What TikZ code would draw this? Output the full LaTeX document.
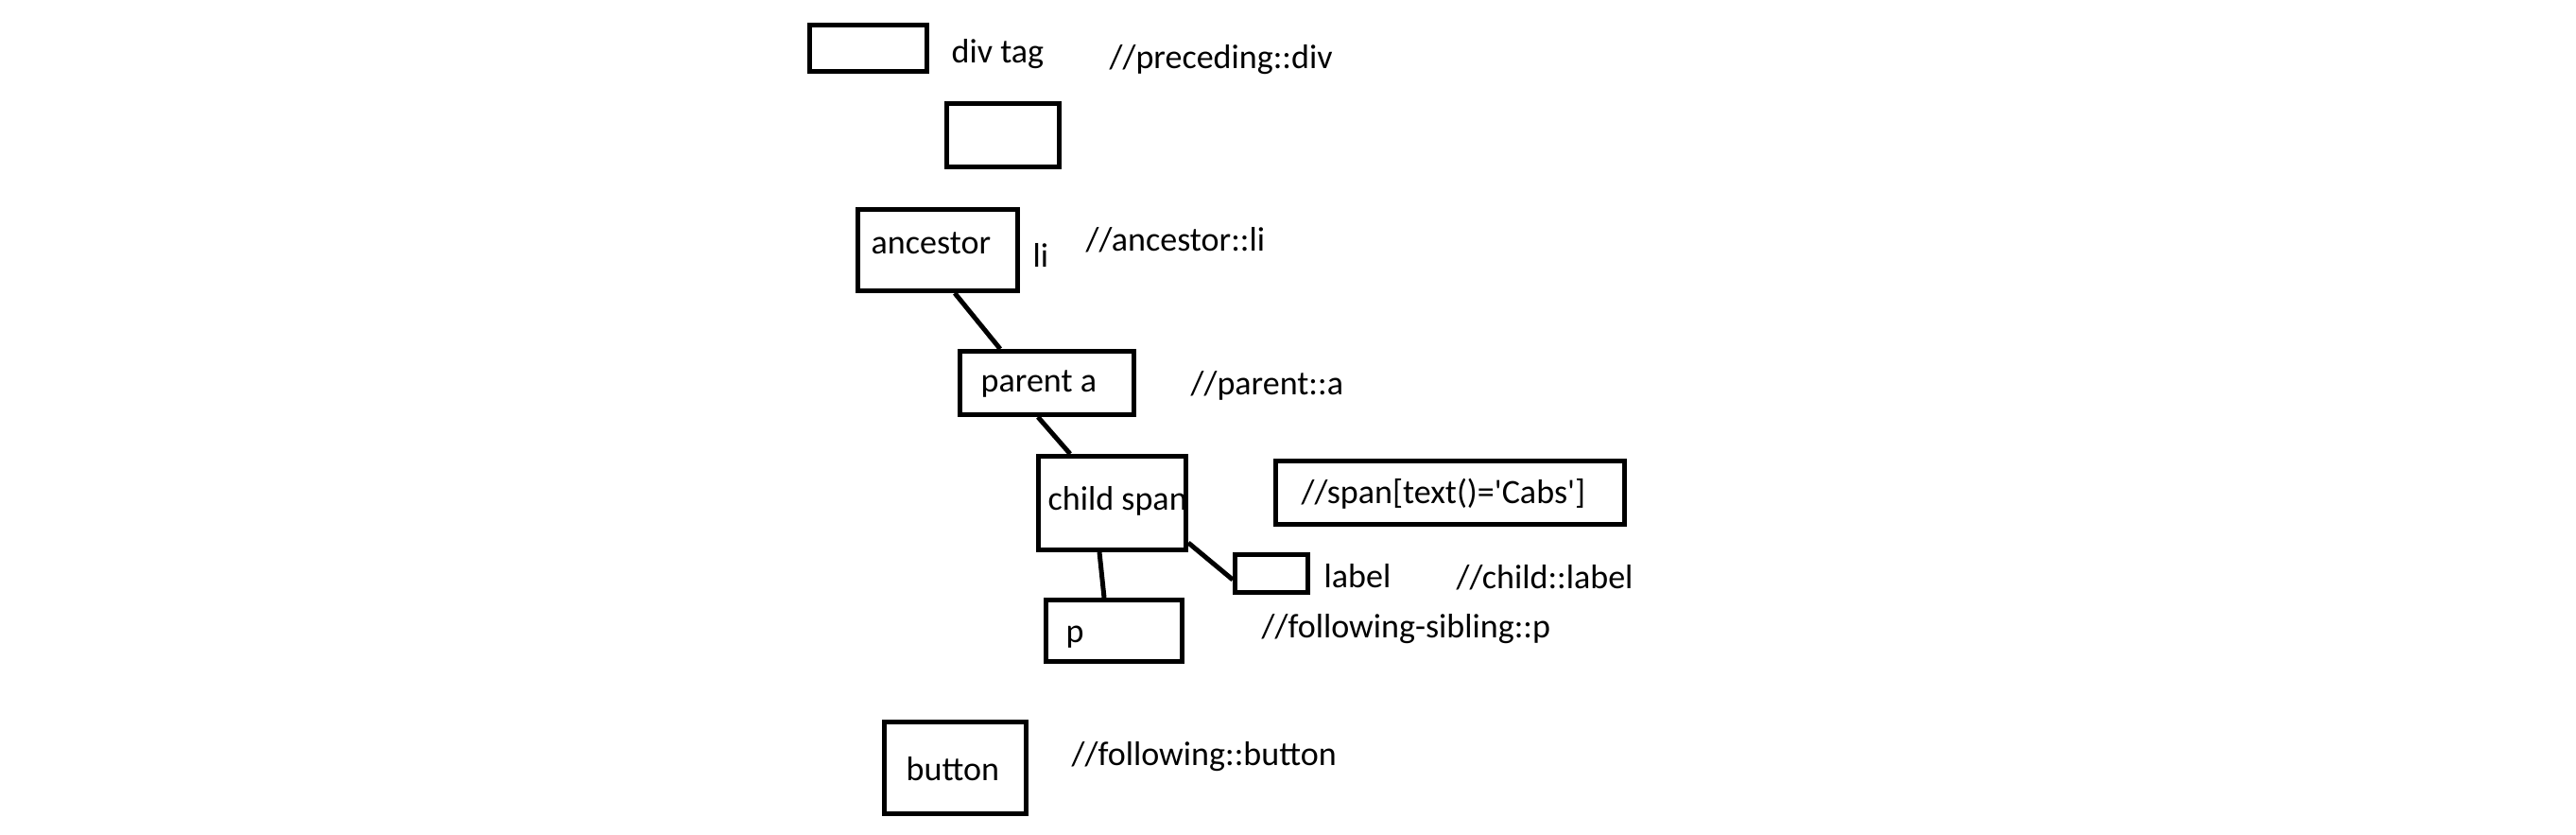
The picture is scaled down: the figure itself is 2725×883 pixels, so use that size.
\documentclass[tikz,border=0pt]{standalone}
\usepackage{fontspec}
\setmainfont{Carlito}
\usetikzlibrary{calc}
\usetikzlibrary{positioning}

\begin{document}
\begin{tikzpicture}[x=0.01cm, y=-0.01cm,
    tag/.style={draw, line width=0.05cm, inner sep=0pt},
    txt/.style={anchor=base west, inner sep=0pt, font=\fontsize{10.25}{12}\selectfont},
    edge/.style={line width=0.05cm}]
    \useasboundingbox (0,0) rectangle (2725,883);

    % boxes of the tree
    \node[tag, minimum width=1.24cm, minimum height=0.49cm] (div) at (918.5,51) {};
    \node[tag, minimum width=1.19cm, minimum height=0.67cm] (empty) at (1061,143) {};
    \node[tag, minimum width=1.69cm, minimum height=0.86cm] (ancestor) at (992,264.5) {};
    \node[tag, minimum width=1.84cm, minimum height=0.67cm] (parent) at (1107.5,405) {};
    \node[tag, minimum width=1.56cm, minimum height=0.99cm] (child) at (1176.5,532) {};
    \node[tag, minimum width=0.77cm, minimum height=0.40cm] (label) at (1345,606.5) {};
    \node[tag, minimum width=1.44cm, minimum height=0.65cm] (p) at (1178.5,667) {};
    \node[tag, minimum width=1.50cm, minimum height=0.97cm] (button) at (1010.5,812) {};
    \node[tag, minimum width=3.69cm, minimum height=0.67cm] (spanq) at (1534,521) {};

    % texts
    \node[txt] (divtxt) at (1006,67) {div tag};
    \node[txt] (ancestortxt) at (921,269) {ancestor};
    \node[txt] (litxt) at (1092,283) {li};
    \node[txt] (parenttxt) at (1037,415) {parent a};
    \node[txt] (childtxt) at (1108,540) {child span};
    \node[txt] (labeltxt) at (1400,622) {label};
    \node[txt] (ptxt) at (1127,680) {p};
    \node[txt] (buttontxt) at (958,825) {button};

    % xpath queries
    \node[txt] (qpreceding) at (1173,73) {//preceding::div};
    \node[txt] (qancestor) at (1148,266) {//ancestor::li};
    \node[txt] (qparent) at (1259,418) {//parent::a};
    \node[txt] (qspan) at (1376,533) {//span[text()=\textquotesingle Cabs\textquotesingle]};
    \node[txt] (qchild) at (1540,623) {//child::label};
    \node[txt] (qsibling) at (1334,675) {//following-sibling::p};
    \node[txt] (qfollowing) at (1133,810) {//following::button};

    % connectors
    \draw[edge] ($(ancestor.south)+(18,0)$) -- ($(parent.north)+(-49.5,0)$);
    \draw[edge] ($(parent.south)+(-9.5,0)$) -- ($(child.north)+(-44.5,0)$);
    \draw[edge] ($(child.south)+(-13.5,0)$) -- ($(p.north)+(-10.5,0)$);
    \draw[edge] ($(child.east)+(0,42)$) -- ($(label.west)+(0,6.5)$);

\end{tikzpicture}
\end{document}
